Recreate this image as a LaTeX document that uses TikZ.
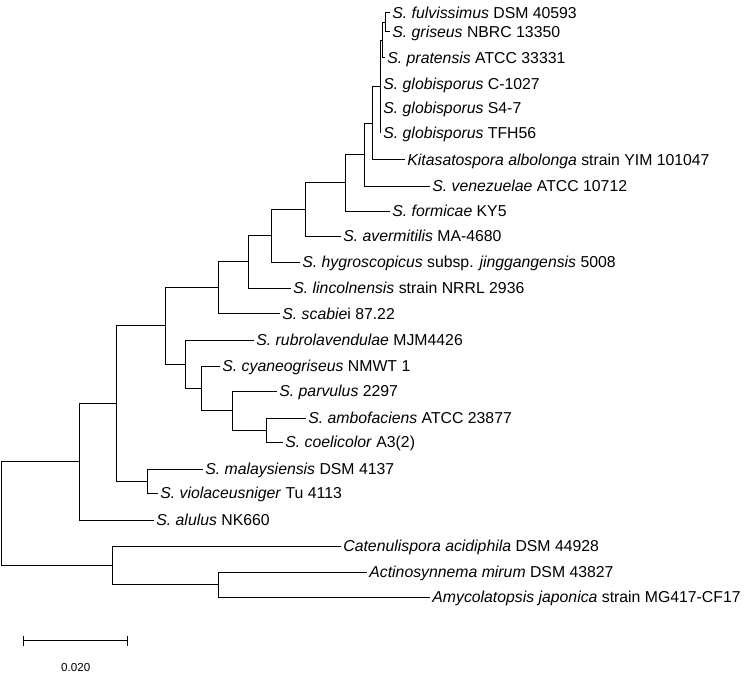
\documentclass[tikz,border=0pt]{standalone}
\usepackage{fontspec}
\setmainfont{Liberation Sans}
\begin{document}
\begin{tikzpicture}[x=1pt,y=-1pt,
  br/.style={line width=1pt, black, line cap=rect},
  lbl/.style={anchor=base west, inner sep=0pt, font=\fontsize{15.8}{18}\selectfont, xshift=3.2pt, yshift=-5.6pt},
  sclbl/.style={inner sep=0pt, font=\fontsize{11.6}{14}\selectfont}]
\useasboundingbox (0,0) rectangle (747,674);
% tips
\coordinate (fulv) at (389,13);
\coordinate (gris) at (389,32);
\coordinate (prat) at (384,58);
\coordinate (c1027) at (380,84);
\coordinate (s47) at (380,108);
\coordinate (tfh) at (380,133);
\coordinate (kita) at (404,160);
\coordinate (ven) at (429,186);
\coordinate (form) at (389,211);
\coordinate (aver) at (340,236);
\coordinate (hygro) at (299,262);
\coordinate (linc) at (290,288);
\coordinate (scab) at (279,313.5);
\coordinate (rubro) at (253,340);
\coordinate (cyano) at (219,366);
\coordinate (parv) at (276,391);
\coordinate (amb) at (305,418);
\coordinate (coel) at (282,442);
\coordinate (malay) at (202,469);
\coordinate (viol) at (157,493);
\coordinate (alul) at (153,520);
\coordinate (cat) at (340,546);
\coordinate (act) at (366,572);
\coordinate (amy) at (429,597);
% internal nodes
\coordinate (J) at (385,22.5);
\coordinate (I) at (382.5,40.25);
\coordinate (H) at (380,86.6);
\coordinate (G) at (372.7,123.3);
\coordinate (F) at (364,154.7);
\coordinate (E) at (345.5,182.8);
\coordinate (D) at (305,209.4);
\coordinate (C) at (271.7,235.7);
\coordinate (B) at (248.3,261.9);
\coordinate (A) at (218.3,287.7);
\coordinate (O) at (266.7,430);
\coordinate (N) at (232,410.5);
\coordinate (M) at (201,388.25);
\coordinate (L) at (185.7,364.1);
\coordinate (K) at (165,325.9);
\coordinate (P) at (147.7,481);
\coordinate (Q) at (116.7,403.5);
\coordinate (R) at (79,461.7);
\coordinate (S) at (218.3,584.5);
\coordinate (T) at (112.3,565.3);
\coordinate (root) at (1.5,513.5);
% branches
\foreach \p/\c in {J/fulv,J/gris,I/J,I/prat,H/I,H/c1027,H/s47,H/tfh,G/H,G/kita,F/G,F/ven,E/F,E/form,D/E,D/aver,C/D,C/hygro,B/C,B/linc,A/B,A/scab,O/amb,O/coel,N/parv,N/O,M/cyano,M/N,L/rubro,L/M,K/A,K/L,P/malay,P/viol,Q/K,Q/P,R/Q,R/alul,S/act,S/amy,T/cat,T/S,root/R,root/T}
  \draw[br] (\p) |- (\c);
% labels
\node[lbl] (Lfulv) at (fulv) {\textit{S. fulvissimus} DSM 40593};
\node[lbl] (Lgris) at (gris) {\textit{S. griseus} NBRC 13350};
\node[lbl] (Lprat) at (prat) {\textit{S. pratensis} ATCC 33331};
\node[lbl] (Lc1027) at (c1027) {\textit{S. globisporus} C-1027};
\node[lbl] (Ls47) at (s47) {\textit{S. globisporus} S4-7};
\node[lbl] (Ltfh) at (tfh) {\textit{S. globisporus} TFH56};
\node[lbl] (Lkita) at (kita) {\textit{Kitasatospora albolonga} strain YIM 101047};
\node[lbl] (Lven) at (ven) {\textit{S. venezuelae} ATCC 10712};
\node[lbl] (Lform) at (form) {\textit{S. formicae} KY5};
\node[lbl] (Laver) at (aver) {\textit{S. avermitilis} MA-4680};
\node[lbl] (Lhygro) at (hygro) {\textit{S. hygroscopicus} subsp. \textit{jinggangensis} 5008};
\node[lbl] (Llinc) at (linc) {\textit{S. lincolnensis} strain NRRL 2936};
\node[lbl] (Lscab) at (scab) {\textit{S. scabie}i 87.22};
\node[lbl] (Lrubro) at (rubro) {\textit{S. rubrolavendulae} MJM4426};
\node[lbl] (Lcyano) at (cyano) {\textit{S. cyaneogriseus} NMWT 1};
\node[lbl] (Lparv) at (parv) {\textit{S. parvulus} 2297};
\node[lbl] (Lamb) at (amb) {\textit{S. ambofaciens} ATCC 23877};
\node[lbl] (Lcoel) at (coel) {\textit{S. coelicolor} A3(2)};
\node[lbl] (Lmalay) at (malay) {\textit{S. malaysiensis} DSM 4137};
\node[lbl] (Lviol) at (viol) {\textit{S. violaceusniger} Tu 4113};
\node[lbl] (Lalul) at (alul) {\textit{S. alulus} NK660};
\node[lbl] (Lcat) at (cat) {\textit{Catenulispora acidiphila} DSM 44928};
\node[lbl] (Lact) at (act) {\textit{Actinosynnema mirum} DSM 43827};
\node[lbl] (Lamy) at (amy) {\textit{Amycolatopsis japonica} strain MG417-CF17};
% scale bar
\coordinate (sb1) at (23.3,640.7);
\coordinate (sb2) at (127.3,640.7);
\draw[br] (sb1) -- (sb2);
\draw[br] ([yshift=4.5pt]sb1) -- ([yshift=-4.5pt]sb1);
\draw[br] ([yshift=4.5pt]sb2) -- ([yshift=-4.5pt]sb2);
\node[sclbl] (sclab) at (75.7,668) {0.020};
\end{tikzpicture}
\end{document}
